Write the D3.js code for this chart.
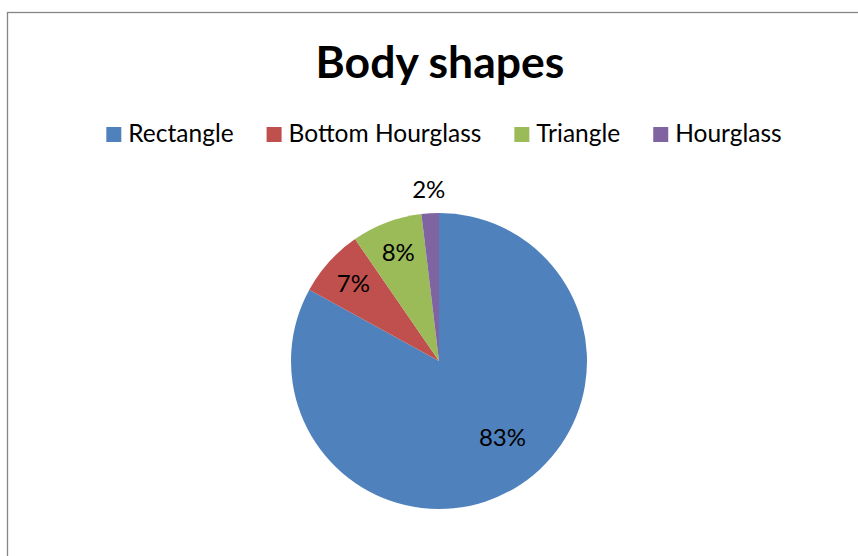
<!DOCTYPE html>
<html lang="en">
<head>
<meta charset="UTF-8">
<title>Body shapes</title>
<script src="https://cdn.jsdelivr.net/npm/d3@7"></script>
<style>
	body { margin: 0; background: #fff; }
	svg { display: block; font-family: Lato, "Open Sans", sans-serif; }
</style>
</head>
<body>
<svg id="chart" width="858" height="556"></svg>
<script>
	// chart data
	var shapes = ["Rectangle", "Bottom Hourglass", "Triangle", "Hourglass"];
	var percents = [83, 7.4, 7.7, 1.9];
	var labels = ["83%", "7%", "8%", "2%"];
	var colours = ["#4F81BD", "#C0504D", "#9BBB59", "#8064A2"];

	var width = 858, height = 556;
	var svg = d3.select("#chart");

	// chart frame (runs off the right and bottom edges)
	svg.append("rect")
		.attr("x", 7.5)
		.attr("y", 12.5)
		.attr("width", 900)
		.attr("height", 600)
		.attr("fill", "none")
		.attr("stroke", "#868686")
		.attr("stroke-width", 1.3);

	svg.append("text")
		.attr("x", 440)
		.attr("y", 78)
		.attr("text-anchor", "middle")
		.attr("font-size", 44.5)
		.attr("font-weight", "bold")
		.text("Body shapes");

	// legend, laid out from the measured text widths
	var legend = svg.append("g");
	var items = legend.selectAll("g")
		.data(shapes)
		.enter()
		.append("g");
	items.append("rect")
		.attr("y", 127)
		.attr("width", 15)
		.attr("height", 15)
		.attr("fill", function (d, i) { return colours[i]; });
	items.append("text")
		.attr("x", 22)
		.attr("y", 142)
		.attr("font-size", 24.5)
		.text(function (d) { return d; });

	var xPos = 0;
	items.each(function () {
		var w = d3.select(this).select("text").node().getComputedTextLength();
		d3.select(this).attr("transform", "translate(" + xPos + ",0)");
		xPos += 22 + w + 33;
	});
	var legendWidth = xPos - 33;
	legend.attr("transform", "translate(" + (444 - legendWidth / 2) + ",0)");

	// pie
	var cx = 439, cy = 361, radius = 148;
	var pie = d3.pie().sort(null).value(function (d) { return d; });
	var arcs = pie(percents);
	var arc = d3.arc().innerRadius(0).outerRadius(radius);

	var g = svg.append("g").attr("transform", "translate(" + cx + "," + cy + ")");
	g.selectAll("path")
		.data(arcs)
		.enter()
		.append("path")
		.attr("d", arc)
		.attr("fill", function (d, i) { return colours[i]; });

	// data labels: inside for wide slices, outside for the thin one
	var maxVal = d3.max(percents);
	function labelPos(d) {
		var share = d.value / d3.sum(percents);
		var a = (d.startAngle + d.endAngle) / 2;
		var r = radius * 0.78;
		if (d.value === maxVal) {
			a -= 0.16;
			r = radius * 0.67;
		} else if (share < 0.04) {
			r = radius * 1.16;
		}
		return [r * Math.sin(a), -r * Math.cos(a)];
	}

	g.selectAll("text")
		.data(arcs)
		.enter()
		.append("text")
		.attr("x", function (d) { return labelPos(d)[0]; })
		.attr("y", function (d) { return labelPos(d)[1]; })
		.attr("dy", "0.35em")
		.attr("text-anchor", "middle")
		.attr("font-size", 24)
		.text(function (d, i) { return labels[i]; });
</script>
</body>
</html>
